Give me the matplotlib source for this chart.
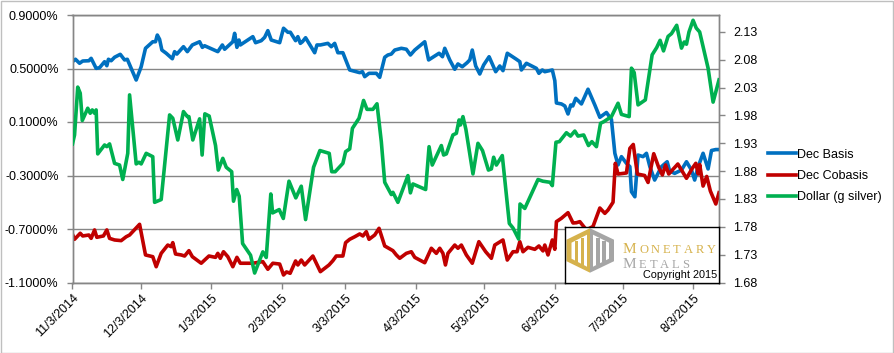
import matplotlib
matplotlib.use('Agg')
import matplotlib.pyplot as plt
import numpy as np
import pandas as pd
from matplotlib.patches import Rectangle, Polygon
from matplotlib.ticker import FuncFormatter
from matplotlib.lines import Line2D

START = pd.Timestamp('2014-11-03')

basis_days = [0, 1.3, 3.1, 4.5, 7.2, 8.2, 10.4, 11.9, 14.1, 15.1, 15.8, 17.0, 18.5, 21.0, 22.9, 24.1, 28.0, 30.2, 32.1, 35.3,
              36.5, 37.3, 38.3, 39.3, 41.2, 43.9, 44.9, 45.9, 48.8, 50.5, 52.7, 55.9, 57.1, 58.1, 63.9, 65.9, 66.9, 70.5, 71.3, 72.3,
              73.2, 73.8, 79.3, 80.5, 83.0, 84.5, 85.9, 87.4, 91.1, 92.8, 94.7, 95.8, 98.1, 99.1, 100.2, 101.1, 102.5, 106.5, 107.5, 109.0,
              112.3, 113.8, 115.3, 116.7, 118.9, 121.9, 126.3, 127.5, 128.5, 130.4, 133.6, 135.1, 137.3, 138.7, 140.2, 141.7, 144.6, 146.8, 148.6, 150.5,
              154.9, 156.6, 158.8, 161.2, 162.7, 163.7, 165.9, 168.1, 169.5, 171.4, 173.5, 174.7, 175.8, 177.3, 179.1, 180.8, 183.2, 186.1, 187.9, 189.3,
              191.2, 195.2, 196.7, 197.4, 199.6, 204.0, 205.1, 206.6, 207.7, 211.0, 212.1, 212.8, 215.0, 216.5, 217.9, 219.1, 220.0, 221.3, 223.8, 226.7,
              229.7, 231.9, 234.8, 237.0, 238.5, 239.9, 241.4, 243.6, 245.1, 245.8, 247.3, 248.7, 250.9, 252.4, 253.9, 256.0, 259.0, 261.5, 262.6, 264.8,
              267.8, 270.0, 272.2, 273.6, 275.1, 277.3, 279.5, 281.0, 282.9, 284.2]
basis_vals = [0.551, 0.569, 0.539, 0.556, 0.558, 0.576, 0.501, 0.506, 0.551, 0.521, 0.569, 0.558, 0.584, 0.606, 0.564, 0.569, 0.414, 0.513, 0.651, 0.700,
              0.700, 0.750, 0.718, 0.638, 0.614, 0.573, 0.626, 0.608, 0.663, 0.626, 0.676, 0.700, 0.658, 0.670, 0.626, 0.676, 0.644, 0.700, 0.763, 0.658,
              0.713, 0.676, 0.738, 0.693, 0.708, 0.733, 0.783, 0.713, 0.693, 0.801, 0.771, 0.771, 0.708, 0.738, 0.688, 0.700, 0.730, 0.618, 0.676, 0.676,
              0.688, 0.663, 0.688, 0.618, 0.618, 0.489, 0.469, 0.476, 0.439, 0.464, 0.464, 0.434, 0.584, 0.601, 0.608, 0.638, 0.651, 0.644, 0.601, 0.638,
              0.700, 0.564, 0.588, 0.614, 0.588, 0.651, 0.564, 0.494, 0.534, 0.513, 0.543, 0.564, 0.638, 0.519, 0.459, 0.526, 0.588, 0.476, 0.519, 0.484,
              0.614, 0.569, 0.551, 0.489, 0.539, 0.501, 0.464, 0.489, 0.476, 0.489, 0.409, 0.242, 0.235, 0.220, 0.160, 0.227, 0.220, 0.277, 0.235, 0.345,
              0.227, 0.135, 0.171, 0.119, -0.134, -0.221, -0.159, -0.209, -0.234, -0.421, -0.459, -0.147, -0.159, -0.134, -0.234, -0.334, -0.234, -0.197, -0.266, -0.284,
              -0.259, -0.197, -0.259, -0.334, -0.236, -0.134, -0.251, -0.113, -0.106, -0.106]

cobasis_days = [0, 0.9, 3.4, 4.5, 7.2, 8.2, 9.7, 10.7, 13.6, 15.1, 16.3, 18.5, 21.4, 23.6, 25.1, 29.5, 32.1, 35.3, 36.8, 39.0,
                41.9, 43.4, 44.1, 45.3, 47.8, 49.3, 51.2, 52.7, 56.6, 60.0, 62.9, 63.9, 65.0, 66.4, 68.3, 70.5, 72.3, 73.8, 79.3, 83.7,
                85.9, 88.1, 91.1, 92.8, 94.1, 95.7, 98.1, 99.1, 100.6, 102.1, 105.7, 109.0, 112.8, 114.5, 116.0, 118.9, 120.1, 121.9, 124.1, 126.3,
                127.7, 129.2, 130.4, 132.9, 134.8, 137.3, 140.9, 142.4, 143.9, 146.8, 149.0, 150.5, 154.9, 157.8, 160.0, 161.5, 162.9, 164.0, 165.1, 168.1,
                169.5, 171.0, 173.2, 175.8, 178.7, 181.7, 184.2, 185.7, 189.3, 191.2, 193.7, 195.5, 196.7, 198.1, 200.3, 203.3, 205.1, 206.9, 207.7, 209.1,
                211.0, 212.1, 212.8, 215.0, 217.9, 220.1, 221.6, 223.1, 226.0, 228.9, 231.9, 234.1, 235.5, 237.7, 238.7, 239.9, 243.6, 245.1, 246.6, 248.4,
                251.6, 253.1, 255.6, 257.8, 259.4, 260.8, 262.2, 266.2, 270.0, 272.5, 274.1, 275.2, 275.8, 277.3, 278.9, 280.5, 282.9, 284.3]
cobasis_vals = [-0.740, -0.777, -0.732, -0.752, -0.745, -0.770, -0.707, -0.762, -0.752, -0.707, -0.770, -0.782, -0.787, -0.758, -0.745, -0.665, -0.894, -0.907, -0.982, -0.882,
                -0.820, -0.832, -0.802, -0.887, -0.894, -0.902, -0.862, -0.907, -0.956, -0.902, -0.912, -0.882, -0.919, -0.870, -0.907, -0.982, -0.912, -0.956, -0.956, -0.944,
                -1.001, -0.956, -0.962, -1.044, -1.021, -1.031, -0.939, -0.969, -0.932, -0.969, -0.902, -1.019, -0.969, -0.937, -0.902, -0.902, -0.802, -0.777, -0.758, -0.737,
                -0.752, -0.720, -0.777, -0.745, -0.695, -0.827, -0.862, -0.894, -0.919, -0.882, -0.870, -0.912, -0.952, -0.844, -0.882, -0.844, -0.882, -0.969, -0.882, -0.820,
                -0.844, -0.820, -0.894, -0.956, -0.795, -0.870, -0.919, -0.820, -0.782, -0.932, -0.870, -0.870, -0.795, -0.870, -0.837, -0.852, -0.827, -0.864, -0.820, -0.894,
                -0.782, -0.852, -0.645, -0.620, -0.578, -0.655, -0.653, -0.645, -0.707, -0.681, -0.543, -0.583, -0.558, -0.500, -0.209, -0.289, -0.281, -0.097, -0.068, -0.289,
                -0.300, -0.352, -0.137, -0.240, -0.296, -0.221, -0.289, -0.214, -0.321, -0.248, -0.209, -0.289, -0.218, -0.379, -0.307, -0.416, -0.513, -0.429]

dollar_days = [0, 0.9, 2.3, 3.4, 4.3, 6.7, 7.8, 8.7, 9.7, 10.4, 11.1, 14.1, 15.1, 16.3, 18.5, 20.7, 22.1, 24.3, 25.1, 28.0,
               29.2, 30.2, 32.4, 35.3, 36.1, 39.0, 42.7, 44.1, 46.3, 48.8, 50.5, 51.2, 52.9, 55.9, 57.0, 58.2, 60.1, 62.9, 64.1, 66.1,
               67.6, 70.0, 70.8, 72.2, 73.3, 74.8, 78.3, 80.1, 83.7, 85.2, 87.2, 88.0, 90.9, 92.7, 95.2, 98.2, 100.6, 102.5, 106.0, 108.8,
               112.9, 114.0, 115.5, 118.9, 120.1, 121.9, 123.1, 126.0, 128.0, 129.5, 132.1, 133.9, 135.8, 137.3, 140.2, 140.9, 143.1, 147.5, 148.6, 149.7,
               155.3, 156.8, 158.2, 162.2, 163.2, 164.4, 167.3, 168.8, 170.0, 170.6, 171.7, 173.0, 176.1, 178.3, 180.3, 182.9, 184.2, 185.2, 186.4, 189.0,
               192.1, 193.7, 196.2, 196.8, 198.9, 204.7, 206.8, 210.0, 211.0, 212.6, 214.1, 217.2, 219.0, 220.9, 222.3, 224.8, 226.9, 228.4, 230.4, 232.2,
               233.7, 237.0, 239.9, 241.4, 244.8, 245.8, 247.0, 248.7, 251.9, 254.9, 256.9, 258.4, 259.9, 261.9, 263.4, 265.7, 267.8, 269.0, 270.0, 271.1,
               272.9, 274.3, 275.8, 279.5, 281.7, 284.3]
dollar_vals = [1.929, 1.945, 2.031, 2.020, 1.971, 1.993, 1.984, 1.990, 1.984, 1.990, 1.911, 1.927, 1.924, 1.929, 1.894, 1.891, 1.865, 1.912, 2.017, 1.893,
               1.896, 1.893, 1.912, 1.906, 1.824, 1.829, 1.981, 1.975, 1.936, 1.987, 1.978, 1.978, 1.936, 1.974, 1.909, 1.983, 1.979, 1.926, 1.882, 1.903,
               1.887, 1.879, 1.826, 1.847, 1.835, 1.750, 1.729, 1.697, 1.735, 1.725, 1.839, 1.805, 1.811, 1.795, 1.862, 1.832, 1.853, 1.793, 1.887, 1.917,
               1.912, 1.879, 1.879, 1.894, 1.915, 1.920, 1.957, 1.975, 2.007, 1.991, 1.991, 2.001, 1.933, 1.860, 1.838, 1.842, 1.824, 1.872, 1.841, 1.857,
               1.847, 1.924, 1.891, 1.926, 1.909, 1.911, 1.945, 1.948, 1.972, 1.963, 1.978, 1.955, 1.875, 1.930, 1.917, 1.882, 1.884, 1.905, 1.891, 1.908,
               1.786, 1.778, 1.758, 1.821, 1.813, 1.865, 1.862, 1.860, 1.854, 1.932, 1.933, 1.949, 1.943, 1.952, 1.943, 1.945, 1.926, 1.933, 1.924, 1.966,
               1.969, 1.978, 2.002, 1.982, 1.978, 2.065, 2.057, 1.999, 2.008, 2.089, 2.102, 2.115, 2.096, 2.122, 2.127, 2.142, 2.101, 2.112, 2.108, 2.130,
               2.151, 2.137, 2.130, 2.065, 2.004, 2.044]

series_names = ['Dec Basis', 'Dec Cobasis', 'Dollar (g silver)']
series_colors = ['#0070C0', '#C00000', '#00B050']
month_labels = ['11/3/2014', '12/3/2014', '1/3/2015', '2/3/2015', '3/3/2015',
                '4/3/2015', '5/3/2015', '6/3/2015', '7/3/2015', '8/3/2015']
left_ticks = [-1.1, -0.7, -0.3, 0.1, 0.5, 0.9]
right_ticks = [1.68, 1.73, 1.78, 1.83, 1.88, 1.93, 1.98, 2.03, 2.08, 2.13]
x_end_days = 284.3
logo_word1 = 'MONETARY'
logo_word2 = 'METALS'
logo_copyright = 'Copyright 2015'


def to_dates(days):
    return START + pd.to_timedelta(np.asarray(days, dtype=float), unit='D')


def pair(d, v):
    n = min(len(d), len(v))
    return to_dates(d[:n]), np.asarray(v[:n])


FONT = 'Liberation Sans'
plt.rcParams['font.family'] = [FONT, 'DejaVu Sans']

W, H = 894, 353
fig = plt.figure(figsize=(W / 100, H / 100), dpi=100)
fig.patch.set_facecolor('white')

L, R, T, B = 72.5, 719, 15, 282.5
ax = fig.add_axes([L / W, 1 - B / H, (R - L) / W, (B - T) / H])
ax2 = ax.twinx()

grid_c = '#868686'
lw = 2.6

bx, by = pair(basis_days, basis_vals)
cx, cy = pair(cobasis_days, cobasis_vals)
dx, dy = pair(dollar_days, dollar_vals)

ax.plot(bx, by, color=series_colors[0], lw=lw, solid_joinstyle='round', zorder=3)
ax.plot(cx, cy, color=series_colors[1], lw=lw, solid_joinstyle='round', zorder=4)
ax2.plot(dx, dy, color=series_colors[2], lw=lw, solid_joinstyle='round', zorder=3)

ax.set_xlim(START, START + pd.Timedelta(days=x_end_days))
ax.set_ylim(-1.1, 0.9)
ax2.set_ylim(1.68, 2.1605)

ax.set_yticks(left_ticks)
ax.yaxis.set_major_formatter(FuncFormatter(lambda v, p: f'{v:.4f}%'))
ax2.set_yticks(right_ticks)
ax2.yaxis.set_major_formatter(FuncFormatter(lambda v, p: f'{v:.2f}'))

month_dates = [pd.Timestamp(pd.to_datetime(s, format='%m/%d/%Y')) for s in month_labels]
ax.set_xticks(month_dates)
ax.set_xticklabels(month_labels, rotation=45, ha='right', rotation_mode='anchor')

ax.yaxis.grid(True, color=grid_c, lw=1)
ax.set_axisbelow(True)

for a in (ax, ax2):
    for s in a.spines.values():
        s.set_color(grid_c)
        s.set_linewidth(1)
    a.tick_params(colors=grid_c, labelcolor='black', labelsize=9, length=4, width=1, direction='out')
ax.tick_params(axis='y', pad=6)
ax2.tick_params(axis='y', pad=6)
ax.tick_params(axis='x', pad=3)

handles = [Line2D([0], [0], color=c, lw=lw) for c in series_colors]
fig.legend(handles, series_names, loc='center left', bbox_to_anchor=(768 / W, 1 - 176 / H),
           frameon=False, fontsize=9, handlelength=2.2, handletextpad=0.15, labelspacing=0.75,
           borderpad=0, borderaxespad=0)

# Logo box
lx0, lx1, ly0, ly1 = 565, 719, 226.7, 282.7
lax = fig.add_axes([lx0 / W, 1 - ly1 / H, (lx1 - lx0) / W, (ly1 - ly0) / H], zorder=5)
lax.set_xlim(0, lx1 - lx0)
lax.set_ylim(ly1 - ly0, 0)
lax.set_facecolor('white')
lax.set_xticks([])
lax.set_yticks([])
for s in lax.spines.values():
    s.set_color('black')
    s.set_linewidth(1)

gold = '#D6B24C'
grey = '#A5A5A5'
cxh, top, bot, up, lo, lft, rgt = 25, 1.5, 46, 13, 34.5, 1.5, 49
lax.add_patch(Polygon([(cxh, top), (cxh, bot), (lft, lo), (lft, up)], closed=True, fc=gold, ec='none'))
lax.add_patch(Polygon([(cxh, top), (rgt, up), (rgt, lo), (cxh, bot)], closed=True, fc=grey, ec='none'))
lax.add_patch(Polygon([(cxh - 3, 8), (cxh - 3, 40), (lft + 5, 32), (lft + 5, 16)], closed=True, fc='white', ec='none'))
lax.add_patch(Polygon([(cxh + 3, 8), (rgt - 5, 16), (rgt - 5, 32), (cxh + 3, 40)], closed=True, fc='white', ec='none'))
lax.add_patch(Rectangle((9.5, 14), 3.5, 21, fc=gold, ec='none'))
lax.add_patch(Rectangle((15.5, 11), 3.5, 27, fc=gold, ec='none'))
lax.add_patch(Rectangle((31, 11), 3.5, 27, fc=grey, ec='none'))
lax.add_patch(Rectangle((37, 14), 3.5, 21, fc=grey, ec='none'))

renderer = fig.canvas.get_renderer()
serif = ['Liberation Serif', 'DejaVu Serif']


def small_caps(x, y, word, color, big=11, small=9, track=2.8):
    for i, ch in enumerate(word):
        t = lax.text(x, y, ch, fontsize=big if i == 0 else small, color=color,
                     family=serif, va='baseline', ha='left')
        bb = t.get_window_extent(renderer)
        x += bb.width + track


small_caps(57.7, 26, logo_word1, gold)
small_caps(57.7, 41.6, logo_word2, grey)
lax.text(78, 48.8, logo_copyright, fontsize=7.8, color='black', va='center')

fig.patches.append(Rectangle((0.5 / W, 0.5 / H), 1 - 1.5 / W, 1 - 1.5 / H, transform=fig.transFigure,
                             fill=False, edgecolor='#BFBFBF', lw=1))

fig.savefig('out.png', dpi=100)
